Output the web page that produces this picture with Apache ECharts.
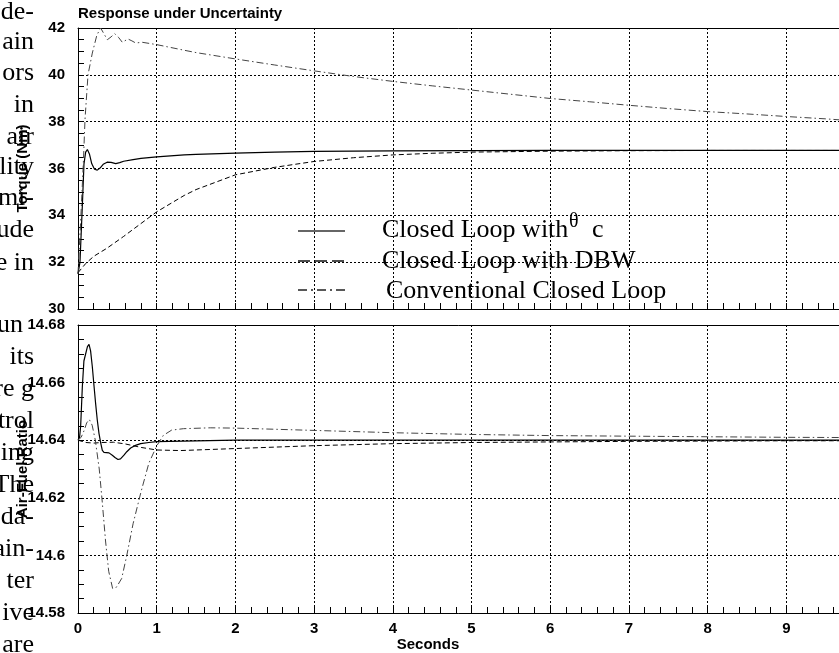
<!DOCTYPE html>
<html>
<head>
<meta charset="utf-8">
<title>Response under Uncertainty</title>
<script src="https://cdn.jsdelivr.net/npm/echarts@6.0.0/dist/echarts.min.js"></script>
<style>
  html, body { margin: 0; padding: 0; background: #fff; }
  #chart { width: 839px; height: 653px; }
</style>
</head>
<body>
<div id="chart"></div>
<script>
// torque (Nm), top panel
const tqThetaX = [0, 0.025, 0.055, 0.076, 0.097, 0.119, 0.145, 0.175, 0.21, 0.245, 0.28, 0.32, 0.37, 0.42, 0.48, 0.53, 0.58, 0.7, 0.8, 1.0, 1.35, 1.5, 2, 2.5, 3, 4, 5, 6, 7, 8, 9, 10]
const tqThetaY = [31.5, 32.0, 34.4, 36.2, 36.7, 36.81, 36.62, 36.2, 35.97, 35.93, 36.02, 36.18, 36.27, 36.26, 36.21, 36.25, 36.31, 36.38, 36.43, 36.5, 36.58, 36.6, 36.66, 36.7, 36.73, 36.75, 36.76, 36.77, 36.77, 36.77, 36.77, 36.77]
const tqDbwX = [0, 0.1, 0.2, 0.37, 0.58, 0.8, 1.0, 1.35, 1.5, 2, 2.5, 3, 3.5, 4, 4.5, 5, 6, 7, 8, 9, 10]
const tqDbwY = [31.55, 31.95, 32.25, 32.6, 33.1, 33.65, 34.15, 34.85, 35.1, 35.73, 36.05, 36.3, 36.46, 36.58, 36.65, 36.7, 36.74, 36.76, 36.77, 36.77, 36.77]
const tqConvX = [0, 0.03, 0.068, 0.089, 0.127, 0.182, 0.24, 0.288, 0.33, 0.373, 0.42, 0.466, 0.515, 0.563, 0.635, 0.685, 0.733, 0.817, 1.0, 1.35, 1.5, 2, 2.5, 3, 3.5, 4, 4.5, 5, 5.5, 6, 6.5, 7, 7.5, 8, 8.5, 9, 9.5, 10]
const tqConvY = [31.5, 33.5, 36.24, 38.09, 40.0, 40.93, 41.7, 42.0, 41.75, 41.5, 41.62, 41.76, 41.6, 41.39, 41.53, 41.45, 41.36, 41.39, 41.29, 41.05, 40.95, 40.68, 40.42, 40.17, 39.93, 39.72, 39.53, 39.35, 39.17, 38.99, 38.85, 38.70, 38.56, 38.43, 38.33, 38.22, 38.12, 38.0]

// air-fuel ratio, bottom panel
const afrThetaX = [0, 0.02, 0.034, 0.055, 0.075, 0.097, 0.12, 0.14, 0.16, 0.182, 0.203, 0.224, 0.245, 0.267, 0.289, 0.309, 0.33, 0.351, 0.394, 0.436, 0.47, 0.508, 0.54, 0.584, 0.62, 0.669, 0.73, 0.796, 0.9, 1.0, 1.5, 2, 3, 5, 7, 10]
const afrThetaY = [14.64, 14.641, 14.645, 14.6585, 14.6675, 14.668, 14.6725, 14.6733, 14.671, 14.6655, 14.659, 14.6527, 14.647, 14.6423, 14.639, 14.6365, 14.6358, 14.6356, 14.6356, 14.6348, 14.634, 14.6333, 14.6335, 14.6348, 14.636, 14.6373, 14.6382, 14.6388, 14.6392, 14.6395, 14.6398, 14.64, 14.64, 14.64, 14.64, 14.64]
const afrDbwX = [0, 0.1, 0.2, 0.3, 0.45, 0.6, 0.8, 1.0, 1.3, 2, 3, 4, 5, 6, 7, 8, 9, 10]
const afrDbwY = [14.64, 14.6392, 14.639, 14.6392, 14.6393, 14.6387, 14.6375, 14.6366, 14.6364, 14.6371, 14.6381, 14.6388, 14.6392, 14.6394, 14.6396, 14.6397, 14.6398, 14.6398]
const afrConvX = [0, 0.04, 0.08, 0.11, 0.144, 0.18, 0.22, 0.27, 0.31, 0.35, 0.39, 0.44, 0.49, 0.555, 0.62, 0.7, 0.8, 0.9, 1.0, 1.085, 1.19, 1.34, 1.68, 2, 3, 4, 5, 6, 7, 8, 9, 10]
const afrConvY = [14.64, 14.641, 14.6435, 14.646, 14.6472, 14.6452, 14.64, 14.630, 14.618, 14.605, 14.5945, 14.5885, 14.589, 14.592, 14.600, 14.611, 14.622, 14.632, 14.638, 14.6417, 14.6435, 14.644, 14.6443, 14.6442, 14.6434, 14.6426, 14.642, 14.6416, 14.6414, 14.6412, 14.641, 14.6409]

const seriesNames = ['Closed Loop with θc', 'Closed Loop with DBW', 'Conventional Closed Loop']

// fragments of the page text cut off at the left edge
const marginText = ['de-', 'ain', 'ors', 'in', 'air', 'lity', 'mi-', 'ude', 'e in',
  'un', 'its', 're g', 'trol', 'ing', 'The', 'da-', 'ain-', 'ter', 'ive', 'are']
const marginTextY = [12, 42, 73, 105, 137, 167, 198, 230, 263,
  325, 357, 389, 421, 453, 485, 517, 549, 581, 613, 645]

function pairs (xs, ys) {
  return xs.map((x, i) => [x, ys[i]])
}

const sans = '"Liberation Sans", Arial, sans-serif'
const serif = '"Liberation Serif", "Times New Roman", serif'
const gridDot = { color: '#000', width: 1, type: [2, 2] }

function xAxisOf (gridIndex, showLabel) {
  return {
    type: 'value', gridIndex: gridIndex, min: 0, max: 10, interval: 1,
    axisLine: { show: true, onZero: false, lineStyle: { color: '#000', width: 1 } },
    axisTick: { show: true, inside: true, length: 6, lineStyle: { color: '#000' } },
    minorTick: { show: true, splitNumber: 5, length: 6, lineStyle: { color: '#000' } },
    axisLabel: { show: showLabel, color: '#000', fontSize: 15, fontWeight: 'bold', fontFamily: sans, margin: 8 },
    splitLine: { show: true, showMinLine: false, lineStyle: gridDot }
  }
}

function topAxisOf (gridIndex) {
  return {
    type: 'value', gridIndex: gridIndex, position: 'top', min: 0, max: 10,
    axisLine: { show: true, onZero: false, lineStyle: { color: '#000', width: 1 } },
    axisTick: { show: false }, axisLabel: { show: false }, splitLine: { show: false }
  }
}

function yAxisOf (gridIndex, min, max, interval, name) {
  return {
    type: 'value', gridIndex: gridIndex, min: min, max: max, interval: interval,
    name: name, nameLocation: 'middle', nameGap: 48, nameMoveOverlap: false,
    nameTextStyle: { color: '#000', fontSize: 15, fontWeight: 'bold', fontFamily: sans },
    axisLine: { show: true, onZero: false, lineStyle: { color: '#000', width: 1 } },
    axisTick: { show: true, inside: true, length: 6, lineStyle: { color: '#000' } },
    minorTick: { show: true, splitNumber: 4, length: 6, lineStyle: { color: '#000' } },
    axisLabel: { color: '#000', fontSize: 15, fontWeight: 'bold', fontFamily: sans, margin: 13 },
    splitLine: { show: true, showMinLine: false, showMaxLine: false, lineStyle: gridDot }
  }
}

const styles = [
  { color: '#000', width: 1.2, type: 'solid' },
  { color: '#000', width: 1, type: [5, 3] },
  { color: '#444', width: 1, type: [7, 3, 1.5, 3] }
]

function lineSeries (idx, gridIndex, xs, ys) {
  return {
    name: seriesNames[idx], type: 'line', xAxisIndex: gridIndex, yAxisIndex: gridIndex,
    data: pairs(xs, ys), showSymbol: false, smooth: false, z: 5,
    lineStyle: styles[idx]
  }
}

const graphics = []
marginText.forEach((t, i) => {
  graphics.push({
    type: 'text', x: t === 'un' ? 23 : 34, y: marginTextY[i], z: 0,
    style: { text: t, font: '26px ' + serif, fill: '#000', align: 'right', verticalAlign: 'middle', textAlign: 'right', textVerticalAlign: 'middle' }
  })
})

// legend drawn inside the top panel
const legendRows = [
  { y: 231, dash: null, width: 2, color: '#666' },
  { y: 261, dash: [12, 5], width: 1.5, color: '#111' },
  { y: 290, dash: [9, 4, 2, 4], width: 1.5, color: '#222' }
]
legendRows.forEach(r => {
  graphics.push({
    type: 'line', z: 10,
    shape: { x1: 298, y1: r.y, x2: 345, y2: r.y },
    style: { stroke: r.color, lineWidth: r.width, lineDash: r.dash }
  })
})
const legendFont = '26px ' + serif
graphics.push(
  { type: 'text', x: 382, y: 230, z: 10, style: { text: 'Closed Loop with', font: legendFont, fill: '#000', verticalAlign: 'middle', textVerticalAlign: 'middle' } },
  { type: 'text', x: 569, y: 222, z: 10, style: { text: 'θ', font: '20px ' + serif, fill: '#000', verticalAlign: 'middle', textVerticalAlign: 'middle' } },
  { type: 'text', x: 592, y: 230, z: 10, style: { text: 'c', font: legendFont, fill: '#000', verticalAlign: 'middle', textVerticalAlign: 'middle' } },
  { type: 'text', x: 382, y: 261, z: 10, style: { text: 'Closed Loop with DBW', font: legendFont, fill: '#000', verticalAlign: 'middle', textVerticalAlign: 'middle' } },
  { type: 'text', x: 386, y: 291, z: 10, style: { text: 'Conventional Closed Loop', font: legendFont, fill: '#000', verticalAlign: 'middle', textVerticalAlign: 'middle' } },
  { type: 'text', x: 428, y: 645, z: 10, style: { text: 'Seconds', font: 'bold 15px ' + sans, fill: '#000', align: 'center', verticalAlign: 'middle', textAlign: 'center', textVerticalAlign: 'middle' } }
)

let myChart = echarts.init(document.getElementById('chart'), null, { renderer: 'canvas' })
myChart.setOption({
  animation: false,
  backgroundColor: '#fff',
  title: {
    text: 'Response under Uncertainty',
    left: 78, top: 6, padding: 0,
    textStyle: { color: '#000', fontSize: 15, fontWeight: 'bold', fontFamily: sans }
  },
  grid: [
    { left: 78, top: 28, width: 787, height: 281, outerBoundsMode: 'none' },
    { left: 78, top: 325, width: 787, height: 288, outerBoundsMode: 'none' }
  ],
  xAxis: [xAxisOf(0, false), xAxisOf(1, true), topAxisOf(0), topAxisOf(1)],
  yAxis: [
    yAxisOf(0, 30, 42, 2, 'Torque (Nm)'),
    yAxisOf(1, 14.58, 14.68, 0.02, 'Air-Fuel Ratio')
  ],
  series: [
    lineSeries(0, 0, tqThetaX, tqThetaY),
    lineSeries(1, 0, tqDbwX, tqDbwY),
    lineSeries(2, 0, tqConvX, tqConvY),
    lineSeries(0, 1, afrThetaX, afrThetaY),
    lineSeries(1, 1, afrDbwX, afrDbwY),
    lineSeries(2, 1, afrConvX, afrConvY)
  ],
  graphic: graphics
})
</script>
</body>
</html>
